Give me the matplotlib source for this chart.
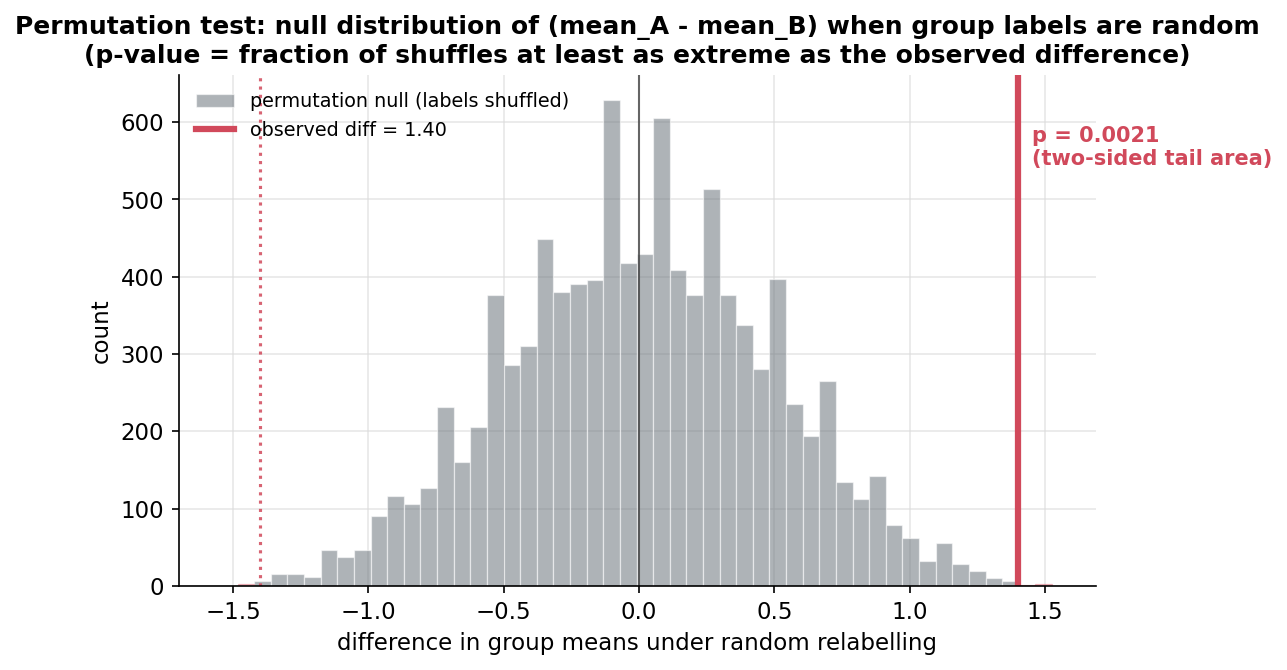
import numpy as np
import matplotlib
matplotlib.use("Agg")
import matplotlib.pyplot as plt

# histogram of the permutation null
bin_left = -1.483
bin_width = 0.0614
counts = [2, 6, 16, 15, 12, 46, 38, 46, 90, 116, 106, 127,
          232, 161, 206, 377, 286, 311, 449, 380, 391, 396, 629, 418,
          430, 606, 409, 377, 514, 377, 338, 281, 397, 236, 194, 265,
          135, 112, 142, 79, 62, 32, 56, 28, 20, 10, 7, 1, 3]
observed = 1.40
p_value = 0.0021

red = "#d1495b"
grey = "#6c757d"

edges = bin_left + bin_width * np.arange(len(counts) + 1)
lefts = edges[:-1]
centers = lefts + bin_width / 2
counts = np.array(counts)
tail = np.abs(centers) >= observed

fig, ax = plt.subplots(figsize=(8.58, 4.467), dpi=150)
fig.subplots_adjust(left=0.139, right=0.8516, bottom=0.1254, top=0.888)

bars = ax.bar(lefts[~tail], counts[~tail], width=bin_width, align="edge",
              color=grey, alpha=0.55, edgecolor="white", linewidth=0.6,
              label="permutation null (labels shuffled)")
ax.bar(lefts[tail], counts[tail], width=bin_width, align="edge",
       color=red, alpha=0.35, edgecolor=red, linewidth=0.6)

ax.axvline(0, color="#444444", lw=1, alpha=0.8)
obs_line = ax.axvline(observed, color=red, lw=3,
                      label=f"observed diff = {observed:.2f}")
ax.axvline(-observed, color=red, lw=1.5, ls=":", alpha=0.85)

ax.text(observed + 0.05, 0.9, f"p = {p_value:.4f}\n(two-sided tail area)",
        transform=ax.get_xaxis_transform(), color=red, fontsize=10,
        fontweight="bold", va="top", ha="left", clip_on=False)

ax.set_xlim(-1.70, 1.688)
ax.set_ylim(0, 661)
ax.set_xlabel("difference in group means under random relabelling", fontsize=11)
ax.set_ylabel("count", fontsize=11)
ax.set_title("Permutation test: null distribution of (mean_A - mean_B) when group labels are random\n"
             "(p-value = fraction of shuffles at least as extreme as the observed difference)",
             fontsize=12, fontweight="bold")
ax.tick_params(labelsize=11)
ax.grid(True, color="#dddddd", lw=0.8, alpha=0.7)
ax.set_axisbelow(True)
for s in ["top", "right"]:
    ax.spines[s].set_visible(False)
ax.legend(handles=[bars, obs_line], loc="upper left", frameon=False, fontsize=9.2)

fig.savefig("out.png", dpi=150)
